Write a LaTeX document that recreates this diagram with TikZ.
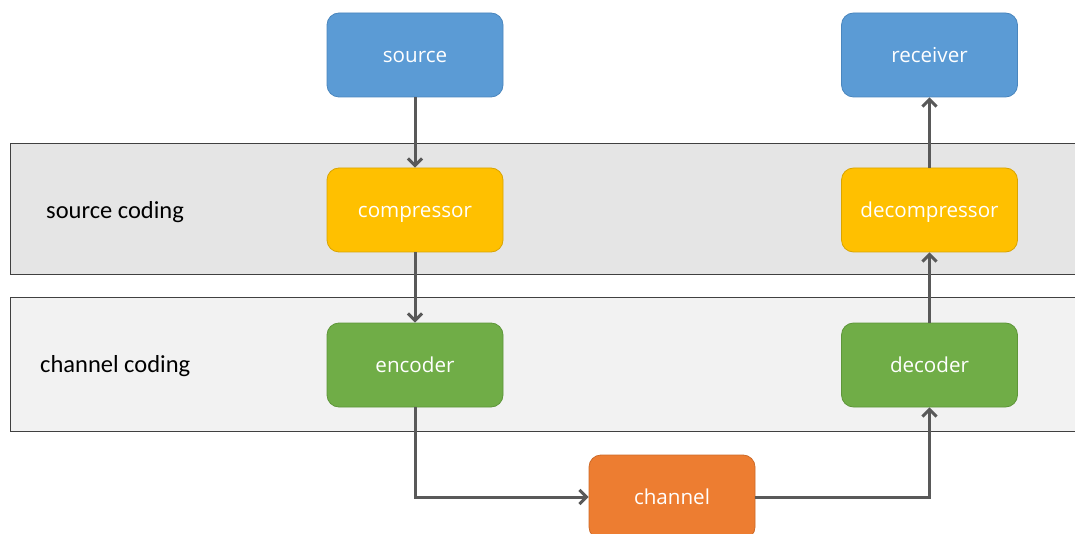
\documentclass[tikz,border=0pt]{standalone}
\usepackage{fontspec}
\setmainfont{Carlito}
\newfontfamily\boxfont{Open Sans}
\usetikzlibrary{arrows.meta}
\definecolor{cblue}{HTML}{5B9BD5}
\definecolor{cblueb}{HTML}{4A86BE}
\definecolor{cyel}{HTML}{FFC000}
\definecolor{cyelb}{HTML}{D9A400}
\definecolor{cgreen}{HTML}{70AD47}
\definecolor{cgreenb}{HTML}{5E9639}
\definecolor{corange}{HTML}{ED7D31}
\definecolor{corangeb}{HTML}{CC6A28}
\definecolor{band1}{HTML}{E5E5E5}
\definecolor{band2}{HTML}{F2F2F2}
\definecolor{arr}{HTML}{595959}
\tikzset{
  blk/.style={rounded corners=12pt, minimum width=176pt, minimum height=84pt, text=white, font=\boxfont\fontsize{20.6}{24}\selectfont, inner sep=0pt, text height=15pt, text depth=0pt, line width=0.8pt},
  bluebox/.style={blk, fill=cblue, draw=cblueb},
  yelbox/.style={blk, fill=cyel, draw=cyelb},
  greenbox/.style={blk, fill=cgreen, draw=cgreenb},
  orbox/.style={blk, fill=corange, draw=corangeb, minimum width=166pt},
  band/.style={draw=black!75, line width=1pt},
  lbl/.style={font=\fontsize{24.5}{28}\selectfont, text=black, anchor=west, inner sep=0pt, text height=15.4pt, text depth=0pt},
  conn/.style={draw=arr, line width=3pt, -{Straight Barb[length=7pt,width=14pt]}}
}
\begin{document}
\begin{tikzpicture}[x=1pt,y=-1pt]
\useasboundingbox (0,0) rectangle (1075,534);
\clip (0,0) rectangle (1075,534);
\fill[white] (0,0) rectangle (1075,534);
\filldraw[band, fill=band1] (10,144) rectangle (1090,275);
\filldraw[band, fill=band2] (10,298) rectangle (1090,431);
\node[lbl] (sc) at (46,211) {source coding};
\node[lbl] (cc) at (40,365) {channel coding};
\node[bluebox] (src) at (415,55) {source};
\node[yelbox] (comp) at (415,210) {compressor};
\node[greenbox] (enc) at (415,365) {encoder};
\node[orbox] (chan) at (672,497) {channel};
\node[bluebox] (rec) at (929.5,55) {receiver};
\node[yelbox] (decomp) at (929.5,210) {decompressor};
\node[greenbox] (dec) at (929.5,365) {decoder};
\draw[conn] (src.south) -- (comp.north);
\draw[conn] (comp.south) -- (enc.north);
\draw[conn] (enc.south) |- (chan.west);
\draw[conn] (chan.east) -| (dec.south);
\draw[conn] (dec.north) -- (decomp.south);
\draw[conn] (decomp.north) -- (rec.south);
\end{tikzpicture}
\end{document}
